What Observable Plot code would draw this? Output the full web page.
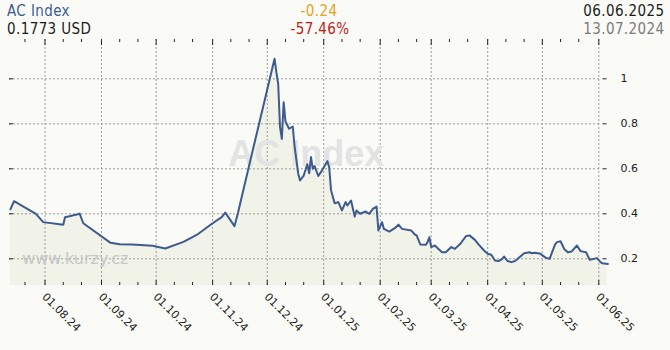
<!DOCTYPE html>
<html><head><meta charset="utf-8">
<script src="https://cdn.jsdelivr.net/npm/d3@7"></script>
<script src="https://cdn.jsdelivr.net/npm/@observablehq/plot@0.6"></script>
<style>
html,body{margin:0;padding:0;background:#fafbf6;}
#wrap{width:670px;height:350px;position:relative;overflow:hidden;background:#fafbf6;}
#hdr{position:relative;height:39px;font-family:"DejaVu Sans Condensed","DejaVu Sans",sans-serif;font-stretch:condensed;font-size:15px;line-height:15px;letter-spacing:0.4px;}
#hdr div{position:absolute;white-space:nowrap;}
#chart svg{display:block;}
</style></head><body>
<div id="wrap"><div id="hdr"></div><div id="chart"></div></div>
<script>
// ---- data ----
const title = "AC Index";
const lastValueText = "0.1773 USD";
const changeText = "-0.24";
const changePctText = "-57.46%";
const endDateText = "06.06.2025";
const startDateText = "13.07.2024";

const dates = ["2024-07-13","2024-07-15","2024-07-27","2024-07-31","2024-08-11","2024-08-12","2024-08-19","2024-08-20","2024-08-22","2024-09-06","2024-09-11","2024-09-18","2024-09-29","2024-10-06","2024-10-16","2024-10-24","2024-11-01","2024-11-06","2024-11-08","2024-11-13","2024-11-15","2024-11-23","2024-12-05","2024-12-06","2024-12-07","2024-12-08","2024-12-09","2024-12-10","2024-12-11","2024-12-13","2024-12-15","2024-12-16","2024-12-18","2024-12-19","2024-12-21","2024-12-23","2024-12-24","2024-12-25","2024-12-26","2024-12-27","2024-12-29","2024-12-31","2025-01-03","2025-01-04","2025-01-05","2025-01-07","2025-01-09","2025-01-11","2025-01-13","2025-01-14","2025-01-16","2025-01-18","2025-01-19","2025-01-21","2025-01-24","2025-01-26","2025-01-28","2025-01-30","2025-01-31","2025-02-02","2025-02-03","2025-02-06","2025-02-09","2025-02-11","2025-02-13","2025-02-18","2025-02-20","2025-02-21","2025-02-23","2025-02-26","2025-02-27","2025-02-28","2025-03-01","2025-03-03","2025-03-05","2025-03-07","2025-03-09","2025-03-12","2025-03-14","2025-03-17","2025-03-20","2025-03-22","2025-03-25","2025-03-27","2025-03-30","2025-04-01","2025-04-03","2025-04-05","2025-04-07","2025-04-09","2025-04-10","2025-04-12","2025-04-14","2025-04-16","2025-04-18","2025-04-21","2025-04-24","2025-04-25","2025-04-27","2025-04-30","2025-05-03","2025-05-05","2025-05-08","2025-05-09","2025-05-11","2025-05-13","2025-05-15","2025-05-17","2025-05-20","2025-05-22","2025-05-25","2025-05-27","2025-05-31","2025-06-02","2025-06-03","2025-06-06"];
const values = [0.420,0.456,0.400,0.363,0.351,0.385,0.398,0.401,0.358,0.271,0.265,0.263,0.258,0.246,0.275,0.310,0.358,0.385,0.405,0.345,0.407,0.681,1.089,1.030,0.978,0.785,0.733,0.896,0.810,0.778,0.788,0.700,0.578,0.548,0.570,0.620,0.580,0.652,0.600,0.612,0.568,0.592,0.634,0.607,0.505,0.447,0.452,0.415,0.452,0.437,0.459,0.388,0.415,0.400,0.410,0.400,0.422,0.432,0.326,0.363,0.333,0.321,0.336,0.352,0.333,0.326,0.308,0.304,0.264,0.262,0.274,0.296,0.252,0.259,0.244,0.229,0.229,0.252,0.244,0.267,0.300,0.304,0.284,0.264,0.237,0.222,0.218,0.192,0.190,0.200,0.210,0.190,0.185,0.190,0.204,0.225,0.229,0.225,0.227,0.222,0.204,0.200,0.264,0.274,0.278,0.244,0.229,0.232,0.259,0.234,0.229,0.196,0.203,0.185,0.180,0.1773];

const monthTicks = ["2024-08-01","2024-09-01","2024-10-01","2024-11-01","2024-12-01","2025-01-01","2025-02-01","2025-03-01","2025-04-01","2025-05-01","2025-06-01"];
const minorTicks = ["2024-07-21","2024-08-11","2024-08-21","2024-09-11","2024-09-21","2024-10-11","2024-10-21","2024-11-11","2024-11-21","2024-12-11","2024-12-21","2025-01-11","2025-01-21","2025-02-11","2025-02-21","2025-03-11","2025-03-21","2025-04-11","2025-04-21","2025-05-11","2025-05-21"];
const yTicks = [0.2, 0.4, 0.6, 0.8, 1];
const yTickLabels = ["0.2","0.4","0.6","0.8","1"];

// ---- header ----
const hdr = document.getElementById("hdr");
function addText(txt, css){ const d=document.createElement("div"); d.textContent=txt; Object.assign(d.style, css); hdr.appendChild(d); }
addText(title, {left:"7px", top:"4.1px", color:"#3c5c96"});
addText(lastValueText, {left:"7px", top:"21.6px", color:"#1c1c1c"});
addText(changeText, {left:"319px", top:"4.1px", color:"#e3a21e", transform:"translateX(-50%)"});
addText(changePctText, {left:"320px", top:"21.6px", color:"#bf1b1b", transform:"translateX(-50%)"});
addText(endDateText, {right:"5.5px", top:"4.1px", color:"#1c1c1c"});
addText(startDateText, {right:"5.5px", top:"21.6px", color:"#7a7a7a"});

// ---- chart ----
const data = dates.map((d,i)=>({date:new Date(d+"T00:00Z"), value:values[i]}));
const toDate = s => new Date(s+"T00:00Z");
const months = monthTicks.map(toDate);
const minors = minorTicks.map(toDate);
const W = 670, H = 311, mL = 9, mR = 63.5, mT = 0, mB = 65;
const frameW = W - mL - mR, frameH = H - mT - mB;
const fmt = d3.utcFormat("%d.%m.%y");

const chart = Plot.plot({
  width: W, height: H,
  marginTop: mT, marginBottom: mB, marginLeft: mL, marginRight: mR,
  style: {background: "transparent", fontFamily: "DejaVu Sans", fontSize: "11px", color: "#1c1c1c", overflow: "visible"},
  x: {type: "utc", domain: [new Date("2024-07-12T12:00Z"), new Date("2025-06-05T12:00Z")], axis: null},
  y: {domain: [0.0813, 1.1747], axis: null},
  marks: [
    Plot.areaY(data, {x: "date", y: "value", fill: "#f1f2e8", clip: true}),
    Plot.ruleX(months, {stroke: "#9a9a9a", strokeDasharray: "2,2"}),
    Plot.ruleY(yTicks, {stroke: "#9a9a9a", strokeDasharray: "2,2", insetRight: 6.5}),
    Plot.text([title], {text: d => d, frameAnchor: "middle", dx: -2, dy: -8.5, fontSize: 36, fontWeight: "bold", fontFamily: "Liberation Sans", fill: "#e3e3e3"}),
    Plot.text(["www.kurzy.cz"], {text: d => d, frameAnchor: "bottom-left", textAnchor: "start", lineAnchor: "bottom", dx: 12.7, dy: -22, fontSize: 16, fontFamily: "DejaVu Sans", fill: "#c6c6c6"}),
    Plot.tickX(minors, {x: d => d, stroke: "#222", insetTop: frameH - 3}),
    Plot.tickX(minors, {x: d => d, stroke: "#222", insetBottom: frameH - 3}),
    Plot.tickX(months, {x: d => d, stroke: "#222", insetTop: frameH - 5}),
    Plot.tickX(months, {x: d => d, stroke: "#222", insetBottom: frameH - 6}),
    Plot.tickY(yTicks, {y: d => d, stroke: "#222", insetRight: frameW - 4}),
    Plot.tickY(yTicks, {y: d => d, stroke: "#222", insetLeft: frameW - 4}),
    Plot.line(data, {x: "date", y: "value", stroke: "#3d5b8f", strokeWidth: 2}),
    Plot.text(yTicks, {y: d => d, text: (d, i) => yTickLabels[i], frameAnchor: "right", textAnchor: "start", dx: 13.5, fontSize: 11, fill: "#1c1c1c"}),
    Plot.text(months, {x: d => d, text: d => fmt(d), frameAnchor: "bottom", rotate: 45, textAnchor: "start", lineAnchor: "middle", dx: -1, dy: 9.5, fontSize: 11, fill: "#1c1c1c"})
  ]
});
document.getElementById("chart").appendChild(chart);
</script></body></html>
